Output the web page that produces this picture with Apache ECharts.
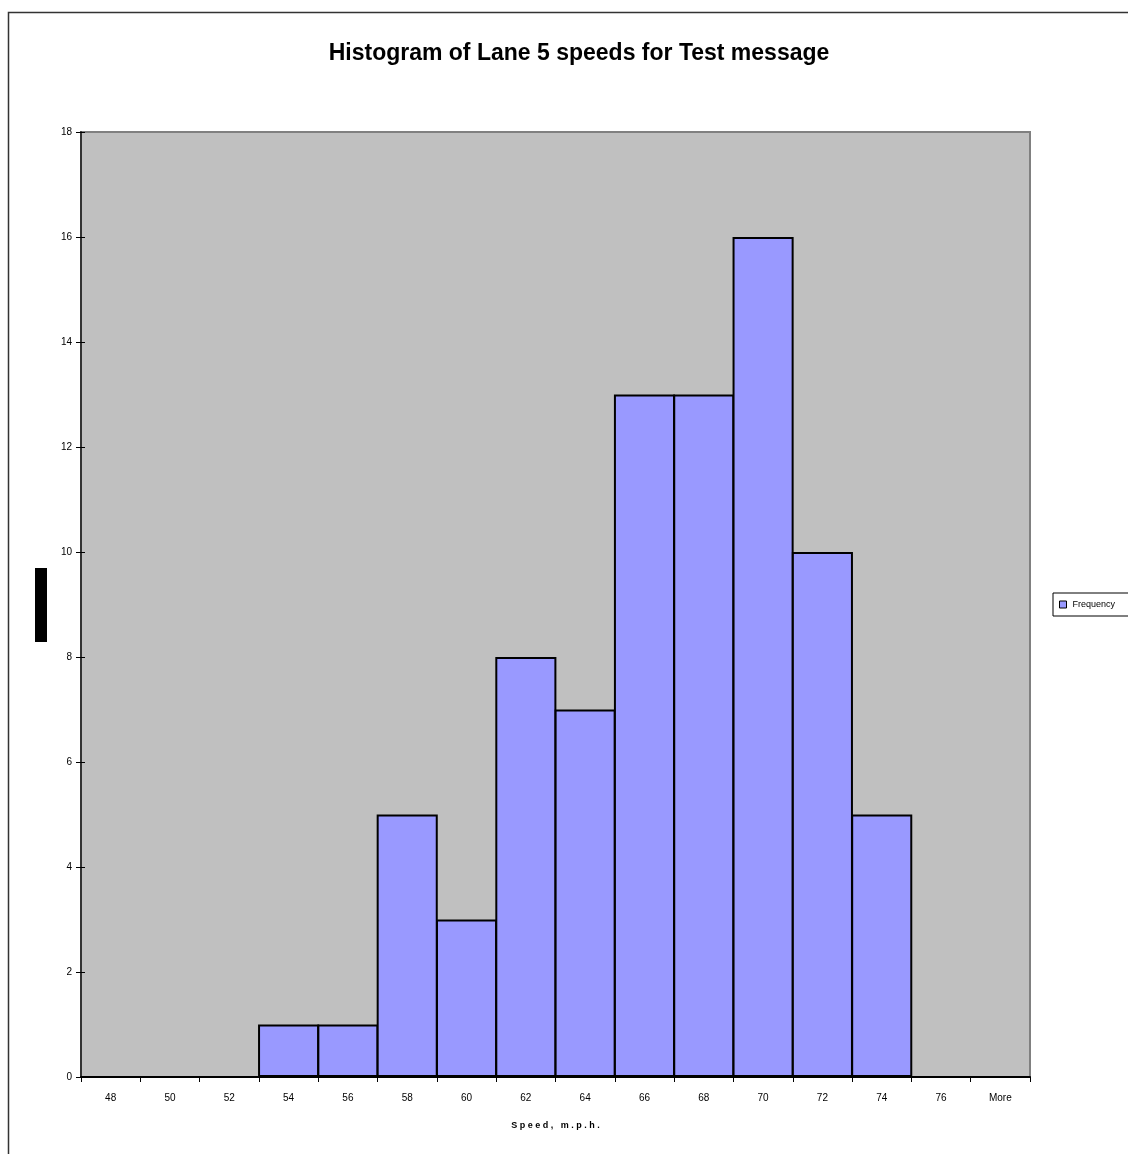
<!DOCTYPE html>
<html>
<head>
<meta charset="utf-8">
<script src="https://cdn.jsdelivr.net/npm/echarts@6/dist/echarts.min.js"></script>
<style>
  html, body { margin: 0; padding: 0; background: #fff; }
  #chart { width: 1128px; height: 1154px; }
</style>
</head>
<body>
<div id="chart"></div>
<script>
// Speed bins (m.p.h.) and counts per bin
const speedBins = ['48', '50', '52', '54', '56', '58', '60', '62', '64', '66', '68', '70', '72', '74', '76', 'More'];
const frequency = [0, 0, 0, 1, 1, 5, 3, 8, 7, 13, 13, 16, 10, 5, 0, 0];
const yTicks = { min: 0, max: 18, step: 2 };

const FONT = '"Liberation Sans", Arial, sans-serif';

const chart = echarts.init(document.getElementById('chart'), null, { renderer: 'canvas' });

chart.setOption({
  backgroundColor: '#ffffff',
  animation: false,
  title: {
    text: 'Histogram of Lane 5 speeds for Test message',
    left: 574,
    top: 37,
    textAlign: 'center',
    textStyle: { fontFamily: FONT, fontSize: 23, fontWeight: 'bold', color: '#000' }
  },
  legend: {
    left: 1053,
    top: 593,
    width: 120,
    height: 14,
    orient: 'vertical',
    padding: [7, 30, 7, 6],
    borderColor: '#000',
    borderWidth: 1,
    backgroundColor: '#fff',
    borderRadius: 0,
    icon: 'rect',
    itemWidth: 7,
    itemHeight: 7,
    itemGap: 4,
    itemStyle: { borderColor: '#000', borderWidth: 1 },
    textStyle: { fontFamily: FONT, fontSize: 9, color: '#000', padding: [0, 0, 0, 1] },
    data: ['Frequency']
  },
  grid: {
    left: 81,
    top: 132,
    right: 98,
    bottom: 77,
    show: true,
    backgroundColor: '#C0C0C0',
    borderColor: '#808080',
    borderWidth: 2,
    containLabel: false
  },
  xAxis: {
    type: 'category',
    data: speedBins,
    boundaryGap: true,
    name: 'S p e e d ,   m . p . h .',
    nameLocation: 'middle',
    nameGap: 44,
    nameTextStyle: { fontFamily: FONT, fontSize: 9, fontWeight: 'bold', color: '#000' },
    axisLine: { show: true, lineStyle: { color: '#000', width: 2 } },
    axisTick: { show: true, alignWithLabel: false, length: 5, lineStyle: { color: '#000', width: 1 } },
    axisLabel: { fontFamily: FONT, fontSize: 10, color: '#000', margin: 16, interval: 0 },
    splitLine: { show: false }
  },
  yAxis: [
    {
      type: 'value',
      min: yTicks.min,
      max: yTicks.max,
      interval: yTicks.step,
      axisLine: { show: true, lineStyle: { color: '#333', width: 2 } },
      axisTick: { show: true, length: 5, lineStyle: { color: '#000', width: 1 } },
      axisLabel: { fontFamily: FONT, fontSize: 10, color: '#000', margin: 9 },
      splitLine: { show: false }
    },
    {
      // inner half of the crossing tick marks
      type: 'value',
      position: 'left',
      min: yTicks.min,
      max: yTicks.max,
      interval: yTicks.step,
      axisLine: { show: false },
      axisTick: { show: true, inside: true, length: 4, lineStyle: { color: '#000', width: 1 } },
      axisLabel: { show: false },
      splitLine: { show: false }
    }
  ],
  series: [
    {
      name: 'Frequency',
      type: 'bar',
      data: frequency,
      barWidth: '103%',
      barGap: '-100%',
      itemStyle: { color: '#9999FF', borderColor: '#000', borderWidth: 2 },
      emphasis: { disabled: true }
    }
  ],
  graphic: [
    {
      // chart area frame
      type: 'rect',
      shape: { x: 8.5, y: 12.5, width: 1300, height: 1300 },
      style: { fill: 'none', stroke: '#333', lineWidth: 1.5 },
      silent: true,
      z: -1
    },
    {
      // vertical axis caption block
      type: 'rect',
      shape: { x: 35, y: 568, width: 12, height: 74 },
      style: { fill: '#000' },
      silent: true
    }
  ]
});
</script>
</body>
</html>
